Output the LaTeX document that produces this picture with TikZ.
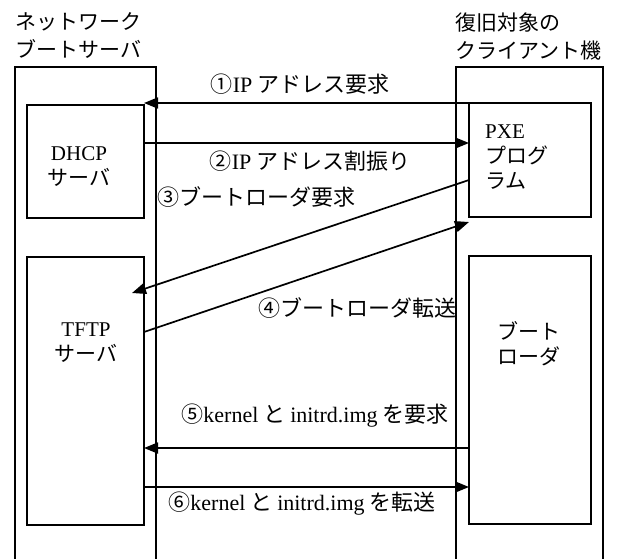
\documentclass[tikz,border=0pt]{standalone}
\usepackage{fontspec}
\setmainfont{Liberation Serif}
\newfontfamily\jpfont{Noto Sans CJK JP}
\newfontfamily\latfont{Liberation Serif}
\newcommand\lat[1]{{\latfont #1}}
\usetikzlibrary{arrows.meta}
\begin{document}
\begin{tikzpicture}[x=1pt,y=-1pt,
  sys/.style={draw, line width=1.4pt, inner sep=0pt, outer sep=0pt, anchor=north west},
  box/.style={draw, line width=1.4pt, inner sep=0pt, outer sep=0pt, anchor=north west},
  arr/.style={line width=1.7pt, -{Triangle[length=14pt,width=11pt]}},
  jp/.style={font=\jpfont\fontsize{21}{25}\selectfont, inner sep=0pt},
  lbl/.style={font=\jpfont\fontsize{22}{25}\selectfont, inner sep=0pt},
  ttl/.style={font=\jpfont\fontsize{21}{28}\selectfont, inner sep=0pt, align=left, anchor=west}]
\useasboundingbox (0,0) rectangle (628,558);
% titles
\node[ttl] (lt) at (15,36) {ネットワーク\\ブートサーバ};
\node[ttl] (rt) at (455,36) {復旧対象の\\クライアント機};
% outer systems (open at the bottom, beyond the page)
\node[sys, minimum width=141pt, minimum height=520pt] (lsys) at (15,67) {};
\node[sys, minimum width=147pt, minimum height=520pt] (rsys) at (456,67) {};
% inner boxes
\node[box, minimum width=117pt, minimum height=113pt] (dhcp) at (27,105) {};
\node[box, minimum width=122pt, minimum height=114pt] (pxe) at (469,103) {};
\node[box, minimum width=117pt, minimum height=268pt] (tftp) at (27,257) {};
\node[box, minimum width=122pt, minimum height=268pt] (boot) at (469,256) {};
% box texts
\node[jp, align=center] (dhcpt) at (79,167) {\lat{DHCP}\\サーバ};
\node[jp, align=left, anchor=west] (pxet) at (485,157) {\lat{PXE}\\プログ\\ラム};
\node[jp, align=center] (tftpt) at (86,343) {\lat{TFTP}\\サーバ};
\node[jp, align=center] (boott) at (529,344) {ブート\\ローダ};
% helper coordinates
\coordinate (ya2) at (0,143);
\coordinate (ya3) at (0,180);
\coordinate (t3) at (132,293);
\coordinate (ya4s) at (0,332);
\coordinate (ya4e) at (0,222);
\coordinate (ya5) at (0,448);
\coordinate (ya6) at (0,487);
% connectors
\draw[arr] (pxe.north west) -- (pxe.north west -| dhcp.east);
\draw[arr] (dhcp.east |- ya2) -- (pxe.west |- ya2);
\draw[arr] (pxe.west |- ya3) -- (t3);
\draw[arr] (tftp.east |- ya4s) -- (pxe.west |- ya4e);
\draw[arr] (boot.west |- ya5) -- (tftp.east |- ya5);
\draw[arr] (tftp.east |- ya6) -- (boot.west |- ya6);
% labels
\node[lbl] (l1) at (300,84) {①\lat{IP} アドレス要求};
\node[lbl] (l2) at (310,161) {②\lat{IP} アドレス割振り};
\node[lbl, anchor=west] (l3) at (157,197) {③ブートローダ要求};
\node[lbl, anchor=east] (l4) at (457,308) {④ブートローダ転送};
\node[lbl] (l5) at (315,416) {⑤\lat{kernel} と \lat{initrd.img} を要求};
\node[lbl] (l6) at (302,504) {⑥\lat{kernel} と \lat{initrd.img} を転送};
\end{tikzpicture}
\end{document}
